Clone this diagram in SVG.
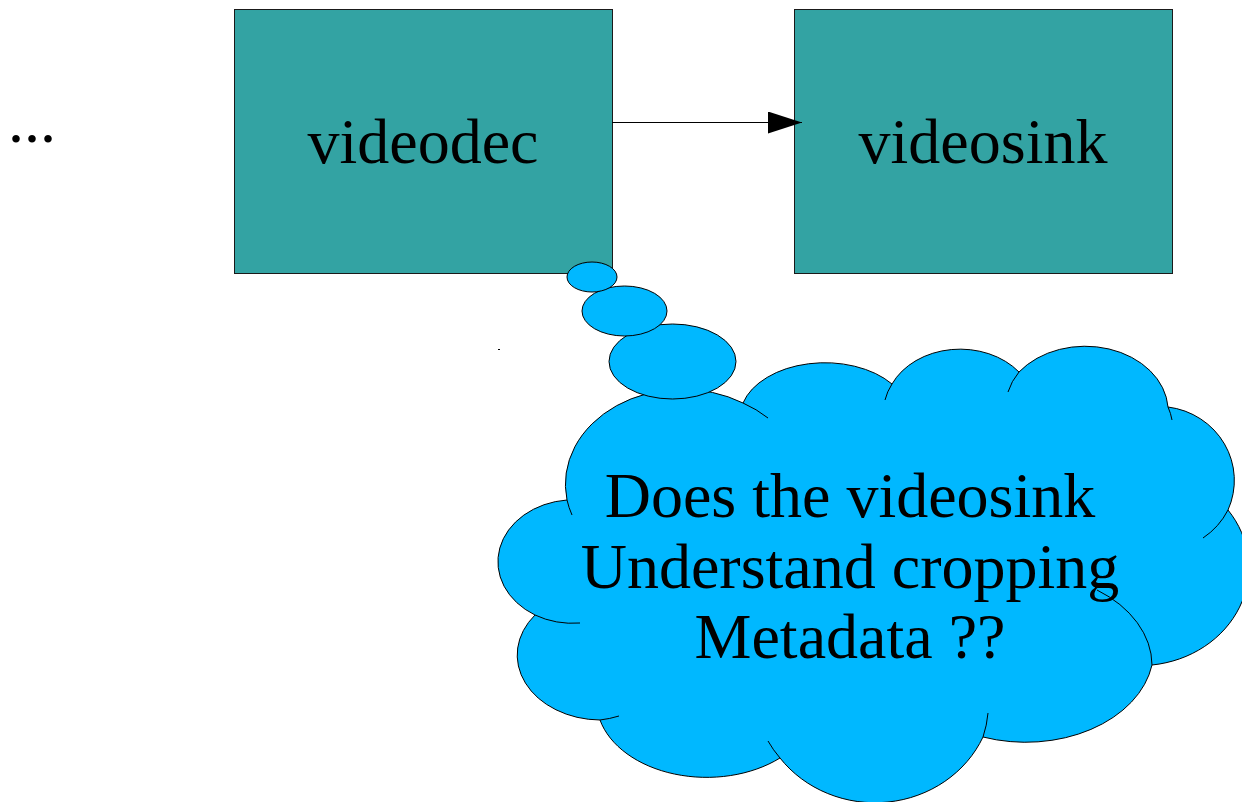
<svg xmlns="http://www.w3.org/2000/svg" width="1242" height="802" viewBox="0 0 1242 802">
  <style>
    .label { font-family: "Liberation Serif", "Times New Roman", serif; font-size: 64px; fill: #000; }
    .box { fill: #33a3a3; stroke: #1a1a1a; stroke-width: 1; }
    .cloud { fill: #00b8ff; stroke: #000; stroke-width: 1; }
    .stub { fill: none; stroke: #000; stroke-width: 1; }
    .edge { fill: none; stroke: #000; stroke-width: 1.2; }
  </style>
  <defs>
    <marker id="arrowhead" markerUnits="userSpaceOnUse" markerWidth="36" markerHeight="24" refX="34" refY="11" orient="auto">
      <path d="M0,0 L34,11 L0,22 Z" fill="#000"/>
    </marker>
  </defs>

  <rect width="1242" height="802" fill="#fff"/>

  <!-- leading ellipsis -->
  <g id="ellipsis">
    <text class="label" x="8" y="142">...</text>
  </g>

  <g id="videodec">
    <rect class="box" x="234.5" y="9.5" width="378" height="264"/>
    <text class="label" x="423" y="163" text-anchor="middle">videodec</text>
  </g>

  <g id="videosink">
    <rect class="box" x="794.5" y="9.5" width="378" height="264"/>
    <text class="label" x="983" y="163" text-anchor="middle">videosink</text>
  </g>

  <!-- thought cloud with its tail of bubbles -->
  <g id="thought">
    <path class="cloud" d="M567,500
      A117,95 0 0 1 743,403
      A85,55 0 0 1 892,384
      A75,60 0 0 1 1019,372
      A83,65 0 0 1 1168,407
      A76,74 0 0 1 1228,510
      A109,98 0 0 1 1152,665
      A128,92 0 0 1 983,737
      A118,110 0 0 1 780,758
      A110,76 0 0 1 600,720
      A84,65 0 0 1 535,615
      A76,62 0 0 1 567,500 Z"/>
    <!-- inner lobe strokes -->
    <path class="stub" d="M572,515 A117,95 0 0 1 567,500
      M743,403 A117,95 0 0 1 768,418
      M580,623 A76,62 0 0 1 535,615
      M619,716 A84,65 0 0 1 600,720
      M780,758 A118,110 0 0 1 768,741
      M988,713 A118,110 0 0 1 983,737
      M1097,590 A128,92 0 0 1 1152,665
      M1228,510 A76,74 0 0 1 1203,538
      M1008,392 A83,65 0 0 1 1019,372
      M1168,407 A83,65 0 0 1 1172,420
      M885,400 A75,60 0 0 1 892,384"/>
    <ellipse class="cloud" cx="672.5" cy="361.5" rx="63.5" ry="37.5"/>
    <ellipse class="cloud" cx="624.5" cy="311" rx="42.5" ry="25"/>
    <ellipse class="cloud" cx="592" cy="277" rx="25" ry="15"/>
    <text class="label" text-anchor="middle">
      <tspan x="858" y="517">Does the videosink</tspan>
      <tspan x="858" y="588">Understand cropping</tspan>
      <tspan x="850" y="658">Metadata ??</tspan>
    </text>
  </g>

  <g id="connectors">
    <line class="edge" x1="612" y1="122.5" x2="802" y2="122.5" marker-end="url(#arrowhead)"/>
  </g>

  <rect x="498" y="349" width="2" height="1" fill="#000"/>
</svg>
